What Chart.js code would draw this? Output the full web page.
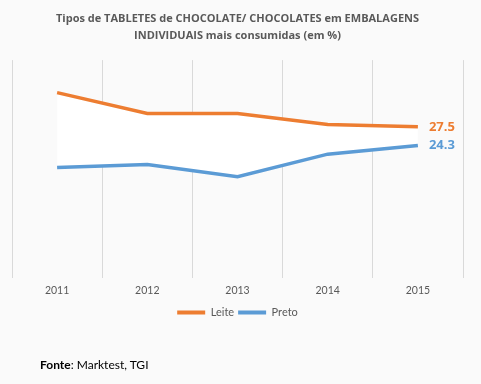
<!DOCTYPE html>
<html>
<head>
<meta charset="utf-8">
<script src="https://cdn.jsdelivr.net/npm/chart.js@4"></script>
<style>
  html, body { margin: 0; padding: 0; background: #fafafa; }
  #wrap { position: relative; width: 481px; height: 384px; }
  #note { position: absolute; left: 40px; top: 357px; font: 12px Lato, sans-serif; color: #000; }
</style>
</head>
<body>
<div id="wrap">
  <canvas id="chart"></canvas>
  <div id="note"><b>Fonte</b>: Marktest, TGI</div>
</div>
<script>
const years = ['2011', '2012', '2013', '2014', '2015'];
const leite = [33.4, 29.8, 29.8, 27.9, 27.5];
const preto = [20.5, 21.0, 18.9, 22.8, 24.3];

// draws the value of the last point to the right of each line
const lastLabel = {
  id: 'lastLabel',
  afterDatasetsDraw(chart) {
    const ctx = chart.ctx;
    ctx.save();
    ctx.font = 'bold 13px "Open Sans", sans-serif';
    ctx.textBaseline = 'middle';
    chart.data.datasets.forEach((ds, i) => {
      const pts = chart.getDatasetMeta(i).data;
      const p = pts[pts.length - 1];
      ctx.fillStyle = ds.borderColor;
      ctx.fillText(ds.data[ds.data.length - 1].toFixed(1), p.x + 11, p.y);
    });
    ctx.restore();
  }
};

new Chart(document.getElementById('chart'), {
  type: 'line',
  data: {
    labels: years,
    datasets: [
      { label: 'Leite', data: leite, borderColor: '#ed7d31', backgroundColor: '#ffffff',
        borderWidth: 3.5, pointRadius: 0, tension: 0, fill: '+1' },
      { label: 'Preto', data: preto, borderColor: '#5b9bd5', backgroundColor: '#5b9bd5',
        borderWidth: 3.5, pointRadius: 0, tension: 0, fill: false }
    ]
  },
  options: {
    responsive: true,
    maintainAspectRatio: false,
    animation: false,
    layout: { padding: { left: 12, right: 18, bottom: 56 } },
    plugins: {
      filler: { drawTime: 'beforeDatasetsDraw' },
      title: {
        display: true,
        text: ['Tipos de TABLETES de CHOCOLATE/ CHOCOLATES em EMBALAGENS', 'INDIVIDUAIS mais consumidas (em %)'],
        color: '#595959',
        font: { family: '"Open Sans", sans-serif', size: 11, weight: 'bold', lineHeight: 1.55 },
        padding: { top: 10, bottom: 16 }
      },
      legend: {
        position: 'bottom',
        labels: {
          boxWidth: 28, boxHeight: 4, color: '#595959', padding: 4,
          font: { family: 'Lato, sans-serif', size: 11 },
          generateLabels(chart) {
            return chart.data.datasets.map((ds, i) => ({
              text: ds.label, fillStyle: ds.borderColor, strokeStyle: ds.borderColor,
              lineWidth: 0, datasetIndex: i, fontColor: '#595959'
            }));
          }
        }
      },
      tooltip: { enabled: false }
    },
    scales: {
      x: {
        offset: true,
        grid: { offset: true, color: '#d9d9d9', tickLength: 0, drawTicks: false },
        border: { display: false },
        ticks: { color: '#595959', font: { family: 'Lato, sans-serif', size: 10.5 }, padding: 6 }
      },
      y: {
        display: false,
        min: 1.4,
        max: 39
      }
    }
  },
  plugins: [lastLabel]
});
</script>
</body>
</html>
